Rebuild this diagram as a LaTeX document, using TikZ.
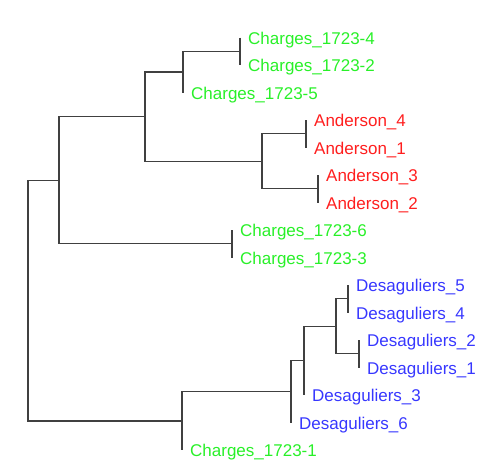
\documentclass[tikz,border=0pt]{standalone}
\usepackage{fontspec}
\setmainfont{Liberation Sans}
\usepackage{tikz}
\usetikzlibrary{positioning}
\definecolor{chgreen}{RGB}{40,240,40}
\definecolor{andred}{RGB}{255,30,30}
\definecolor{desblue}{RGB}{55,55,255}

\begin{document}
\begin{tikzpicture}[x=1pt,y=-1pt,
  branch/.style={draw=black!75,line width=1.2pt},
  leaf/.style={inner sep=0pt,yshift=-2.5pt,font=\fontsize{17}{20}\selectfont}]
\useasboundingbox (0,0) rectangle (498,467);

% Tips with labels
\foreach \n/\x/\y/\txt/\col in {
    ch4/240/37.5/Charges\_1723-4/chgreen, ch2/240/65/Charges\_1723-2/chgreen,
    ch5/183/92.5/Charges\_1723-5/chgreen,
    an4/306/120/Anderson\_4/andred, an1/306/147.5/Anderson\_1/andred,
    an3/318/175/Anderson\_3/andred, an2/318/202.5/Anderson\_2/andred,
    ch6/232/230/Charges\_1723-6/chgreen, ch3/232/257.5/Charges\_1723-3/chgreen,
    de5/348/285/Desaguliers\_5/desblue, de4/348/312.5/Desaguliers\_4/desblue,
    de2/359/340/Desaguliers\_2/desblue, de1/359/367.5/Desaguliers\_1/desblue,
    de3/304/395/Desaguliers\_3/desblue, de6/291/422.5/Desaguliers\_6/desblue,
    ch1/182/450/Charges\_1723-1/chgreen}
{
    \coordinate (p-\n) at (\x,\y);
    \node[leaf,text=\col,right=8pt of p-\n] (\n) {\txt};
}

% Internal nodes
\coordinate (nA) at (240,51.25);
\coordinate (nB) at (183,71.9);
\coordinate (nD1) at (306,133.75);
\coordinate (nD2) at (318,188.75);
\coordinate (nD) at (262,161.25);
\coordinate (nC) at (145,116.6);
\coordinate (nE) at (232,243.75);
\coordinate (nF) at (59,180.2);
\coordinate (nG1) at (348,298.75);
\coordinate (nG2) at (359,353.75);
\coordinate (nG) at (336,326.25);
\coordinate (nH) at (304,360.6);
\coordinate (nI) at (291,391.8);
\coordinate (nJ) at (182,420.9);
\coordinate (root) at (28,300.5);

% Branches
\draw[branch] (p-ch4) -| (nA) |- (p-ch2);
\draw[branch] (nA) -| (nB) |- (p-ch5);
\draw[branch] (p-an4) -| (nD1) |- (p-an1);
\draw[branch] (p-an3) -| (nD2) |- (p-an2);
\draw[branch] (nD1) -| (nD) |- (nD2);
\draw[branch] (nB) -| (nC) |- (nD);
\draw[branch] (p-ch6) -| (nE) |- (p-ch3);
\draw[branch] (nC) -| (nF) |- (nE);
\draw[branch] (p-de5) -| (nG1) |- (p-de4);
\draw[branch] (p-de2) -| (nG2) |- (p-de1);
\draw[branch] (nG1) -| (nG) |- (nG2);
\draw[branch] (nG) -| (nH) |- (p-de3);
\draw[branch] (nH) -| (nI) |- (p-de6);
\draw[branch] (nI) -| (nJ) |- (p-ch1);
\draw[branch] (nF) -| (root) |- (nJ);
\end{tikzpicture}
\end{document}
